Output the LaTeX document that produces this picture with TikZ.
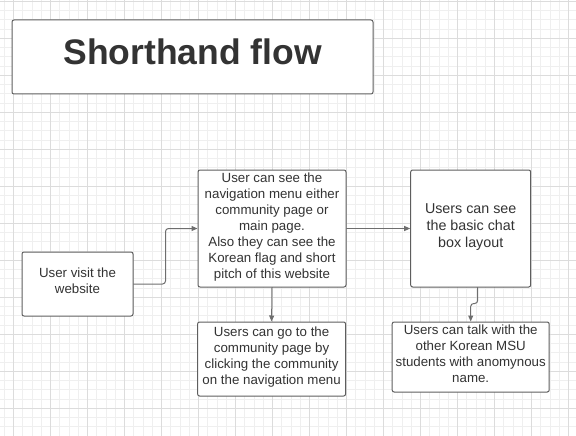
\documentclass[tikz,border=0pt]{standalone}
\usepackage{fontspec}
\setmainfont{Liberation Sans}
\usetikzlibrary{arrows.meta}
\usetikzlibrary{calc}

\definecolor{boxline}{HTML}{5E5E5E}
\definecolor{boxtext}{HTML}{333333}
\definecolor{flowline}{HTML}{6E6E6E}
\definecolor{gridminor}{HTML}{EFEFEF}
\definecolor{gridmajor}{HTML}{DCDCDC}

\tikzset{
    flowbox/.style={draw=boxline, line width=1pt, fill=white, rounded corners=2pt,
        align=center, text=boxtext, inner sep=0pt, text depth=6pt,
        font=\fontsize{13.3}{16}\selectfont},
    flowarrow/.style={draw=flowline, line width=1pt, rounded corners=3pt,
        -{Triangle[length=6pt, width=5pt]}},
}

\begin{document}
\begin{tikzpicture}[x=1pt, y=-1pt, line cap=round]

    \useasboundingbox (0,0) rectangle (576,436);

    % grid paper
    \foreach \k in {0,...,61} \draw[gridminor, line width=0.8pt] ({4.25+9.25*\k},0) -- ({4.25+9.25*\k},436);
    \foreach \k in {0,...,47} \draw[gridminor, line width=0.8pt] (0,{1.3+9.25*\k}) -- (576,{1.3+9.25*\k});
    \foreach \k in {0,...,15} \draw[gridmajor, line width=0.9pt] ({13.5+37*\k},0) -- ({13.5+37*\k},436);
    \foreach \k in {0,...,11} \draw[gridmajor, line width=0.9pt] (0,{1.3+37*\k}) -- (576,{1.3+37*\k});

    \node[flowbox, minimum width=361pt, minimum height=74pt, text depth=10pt,
        font=\fontsize{35.5}{40}\selectfont\bfseries] (title) at (192.5,57) {Shorthand flow};

    \node[flowbox, minimum width=111pt, minimum height=64pt] (visit) at (77.5,284)
        {User visit the\\website};
    \node[flowbox, minimum width=148pt, minimum height=117pt] (nav) at (272,228.5)
        {User can see the\\navigation menu either\\community page or\\main page.\\Also they can see the\\Korean flag and short\\pitch of this website};
    \node[flowbox, minimum width=120pt, minimum height=117pt,
        font=\fontsize{14.3}{16.8}\selectfont] (chat) at (470.7,228.5)
        {Users can see\\the basic chat\\box layout};
    \node[flowbox, minimum width=148pt, minimum height=74pt] (community) at (271.6,359)
        {Users can go to the\\community page by\\clicking the community\\on the navigation menu};
    \node[flowbox, minimum width=157pt, minimum height=70pt] (talk) at (470.7,357)
        {Users can talk with the\\other Korean MSU\\students with anomynous\\name.};

    \draw[flowarrow] (visit.east) -| ($(visit.east)!0.5!(nav.west)$) |- (nav.west);
    \draw[flowarrow] (nav.east) -- (chat.west);
    \draw[flowarrow] (nav.south) -- (community.north);
    \draw[flowarrow] ([xshift=7pt]chat.south) -- ++(0,16) -| (talk.north);

\end{tikzpicture}
\end{document}
